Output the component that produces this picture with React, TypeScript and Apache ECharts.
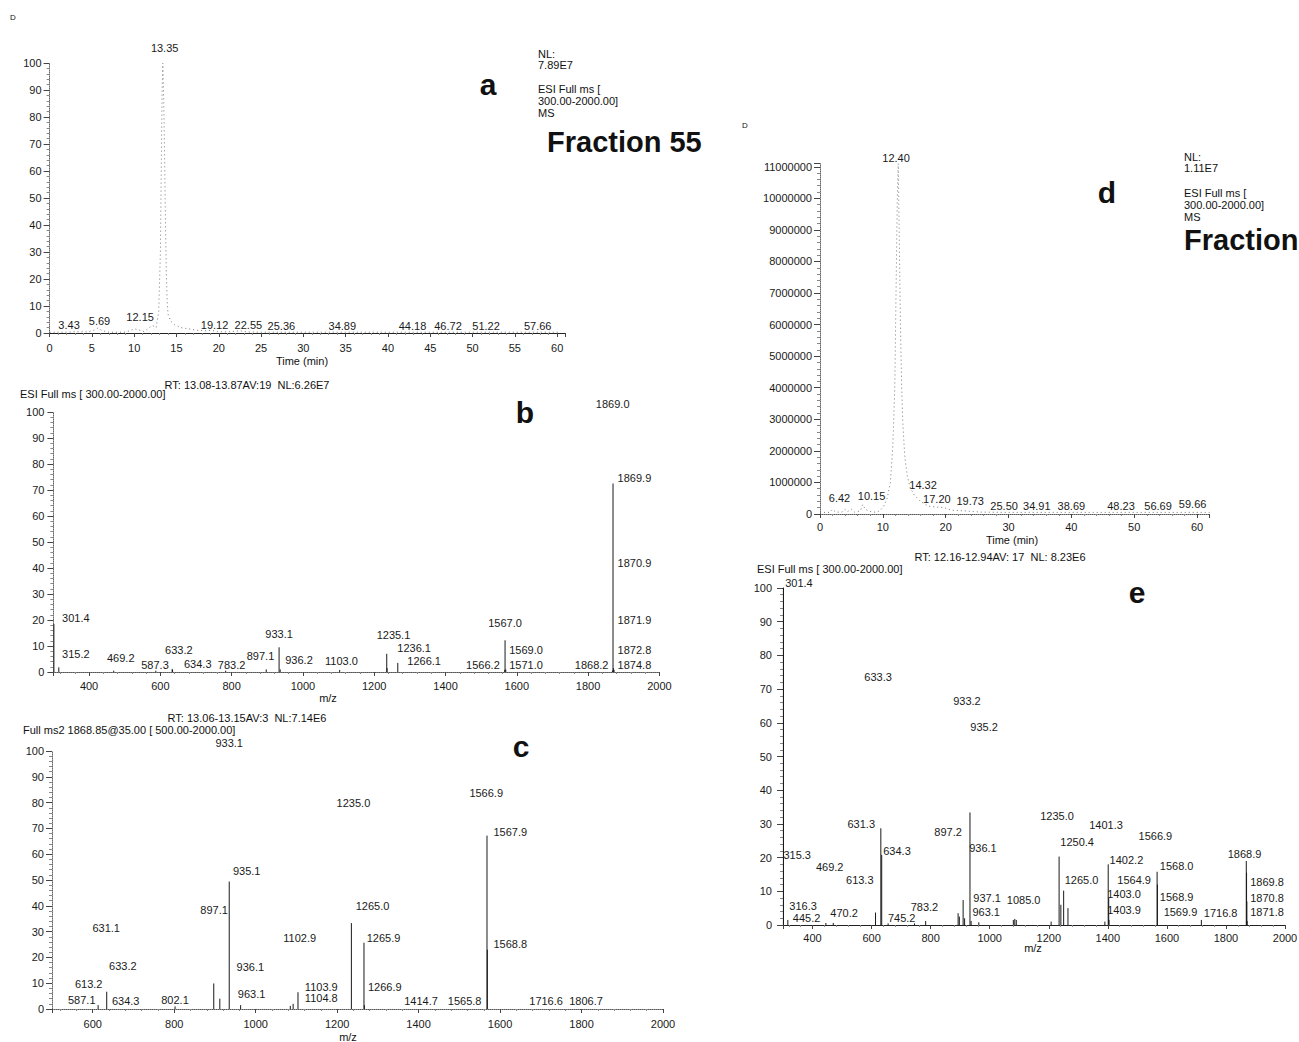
import React, { useEffect, useRef } from 'react';
import * as echarts from 'echarts';

const FONT = 'Liberation Sans';

// ---- Panel a: chromatogram, relative abundance vs time (min)
const aTrace: [number, number][] = [
  [0, 0.3], [2, 0.3], [3.43, 0.5], [4.5, 0.4], [5.2, 1.0], [5.69, 1.8], [6.3, 0.8], [7, 0.3], [9, 0.3],
  [9.6, 1.0], [10.1, 1.5], [10.7, 1.0], [11.2, 0.5], [11.7, 1.8], [12.15, 2.8], [12.6, 2.0], [12.9, 8],
  [13.1, 30], [13.2, 60], [13.3, 90], [13.38, 100], [13.5, 85], [13.6, 65], [13.7, 40], [13.8, 22],
  [13.9, 12], [14.0, 7], [14.3, 4.5], [14.8, 3], [15.5, 2], [16.5, 1.5], [17.5, 1.0], [18.5, 0.8],
  [19.12, 1.0], [19.8, 0.5], [21, 0.4], [22.55, 0.8], [23.3, 0.4], [25, 0.3], [40, 0.3], [60.3, 0.3],
];
const aLabels: [string, number, number][] = [
  ['13.35', 13.6, 105.5], ['3.43', 2.3, 2.8], ['5.69', 5.9, 4.3], ['12.15', 10.7, 5.9], ['19.12', 19.5, 2.8],
  ['22.55', 23.5, 2.8], ['25.36', 27.4, 2.5], ['34.89', 34.6, 2.5], ['44.18', 42.9, 2.5], ['46.72', 47.1, 2.5],
  ['51.22', 51.6, 2.5], ['57.66', 57.7, 2.5],
];

// ---- Panel b: full MS spectrum
const bPeaks: [number, number][] = [
  [301.4, 18.5], [315.2, 1.8], [469.2, 0.5], [587.3, 0.5], [633.2, 1.2], [634.3, 0.8], [783.2, 0.5],
  [897.1, 1.0], [933.1, 9.5], [936.2, 1.0], [1103.0, 0.8], [1235.1, 7.0], [1236.1, 1.5], [1266.1, 3.5],
  [1566.2, 0.8], [1567.0, 12.2], [1569.0, 1.0], [1868.2, 0.5], [1869.9, 72.5], [1870.9, 1.5], [1872.8, 0.8],
];
const bLabels: [string, number, number][] = [
  ['1869.0', 1869, 103], ['1869.9', 1930, 74.5], ['1870.9', 1930, 42], ['1871.9', 1930, 20],
  ['1872.8', 1930, 8.6], ['1874.8', 1930, 2.8], ['1868.2', 1810, 2.8], ['1567.0', 1567, 19],
  ['1569.0', 1626, 8.6], ['1571.0', 1626, 2.8], ['1566.2', 1505, 2.8], ['1266.1', 1340, 4.1],
  ['1236.1', 1312, 9.3], ['1235.1', 1254, 14.2], ['1103.0', 1108, 4.1], ['936.2', 989, 4.8],
  ['933.1', 933, 14.8], ['897.1', 881, 6], ['783.2', 800, 2.8], ['634.3', 705, 3.2], ['633.2', 652, 8.6],
  ['587.3', 585, 2.6], ['469.2', 489, 5.2], ['315.2', 363, 6.8], ['301.4', 363, 20.9],
];

// ---- Panel c: MS2 spectrum
const cPeaks: [number, number][] = [
  [613.2, 1.5], [634.3, 6.7], [802.1, 1], [897.1, 9.9], [912, 4], [935.1, 49.4], [963.1, 1.5],
  [1085, 1.2], [1092, 2], [1103.9, 6.5], [1235.0, 33.3], [1265.9, 25.7], [1266.9, 1.5],
  [1567.9, 67.2], [1568.8, 23.0],
];
const cLabels: [string, number, number][] = [
  ['933.1', 935, 103], ['1566.9', 1566, 83.9], ['1235.0', 1240, 79.7], ['1567.9', 1625, 68.7],
  ['935.1', 978, 53.5], ['897.1', 898, 38.4], ['1265.0', 1287, 39.9], ['631.1', 633, 31.3],
  ['1102.9', 1108, 27.4], ['1265.9', 1314, 27.6], ['1568.8', 1625, 25.2], ['633.2', 674, 16.8],
  ['936.1', 987, 16.4], ['613.2', 590, 9.7], ['1103.9', 1161, 8.7], ['1266.9', 1317, 8.4],
  ['587.1', 573, 3.5], ['634.3', 681, 3.2], ['802.1', 802, 3.5], ['963.1', 990, 5.8],
  ['1104.8', 1161, 4.1], ['1414.7', 1406, 3.1], ['1565.8', 1513, 3.1], ['1716.6', 1713, 3.1],
  ['1806.7', 1811, 3.1],
];

// ---- Panel d: chromatogram, absolute intensity vs time (min)
const dTrace: [number, number][] = [
  [0, 50000], [1.5, 50000], [2, 150000], [2.5, 60000], [3.5, 60000], [4, 150000], [4.4, 80000],
  [5, 150000], [5.5, 60000], [6, 80000], [6.42, 100000], [6.8, 300000], [7.2, 150000], [8, 80000],
  [9, 50000], [9.6, 120000], [10.15, 250000], [10.7, 500000], [11.2, 1000000], [11.6, 2200000],
  [11.9, 4000000], [12.1, 7000000], [12.3, 10000000], [12.45, 11100000], [12.6, 9000000],
  [12.8, 6000000], [13, 4000000], [13.2, 2800000], [13.5, 1800000], [13.9, 1200000], [14.32, 850000],
  [15, 600000], [16, 400000], [17.2, 250000], [18.5, 220000], [19.73, 200000], [21, 120000],
  [23, 100000], [25.5, 60000], [30, 50000], [62, 50000],
];
const dLabels: [string, number, number][] = [
  ['12.40', 12.1, 11290000], ['14.32', 16.4, 930000], ['6.42', 3.1, 500000], ['10.15', 8.2, 560000],
  ['17.20', 18.6, 470000], ['19.73', 23.9, 420000], ['25.50', 29.3, 240000], ['34.91', 34.5, 240000],
  ['38.69', 40.0, 240000], ['48.23', 47.9, 240000], ['56.69', 53.8, 260000], ['59.66', 59.3, 320000],
];

// ---- Panel e: full MS spectrum of the second fraction
const ePeaks: [number, number][] = [
  [301.4, 100], [316.3, 1.5], [445.2, 0.6], [470.2, 0.6], [613.3, 3.7], [631.3, 28.7], [634.3, 20.8],
  [656, 0.5], [745.2, 0.5], [783.2, 1.2], [893, 3.5], [897.2, 2.5], [910, 7.4], [915, 2], [933.2, 33.4],
  [937.1, 1.2], [963.1, 0.8], [1080, 1.5], [1085.0, 1.8], [1090, 1.5], [1208, 1], [1235.0, 20.3],
  [1241, 6], [1250.4, 10.2], [1265.0, 5.0], [1390, 1], [1401.3, 18], [1403.0, 8], [1403.9, 1.5],
  [1566.9, 15.8], [1568.0, 12], [1716.8, 1.5], [1868.9, 19], [1869.8, 15.5], [1870.8, 7], [1871.8, 1.2],
];
const eLabels: [string, number, number][] = [
  ['301.4', 354, 101.6], ['633.3', 622, 73.6], ['933.2', 923, 66.5], ['935.2', 981, 58.8],
  ['1235.0', 1228, 32.4], ['1401.3', 1394, 29.6], ['1566.9', 1561, 26.5], ['631.3', 565, 30.1],
  ['897.2', 859, 27.7], ['936.1', 977, 22.9], ['1250.4', 1296, 24.5], ['315.3', 348, 20.8],
  ['634.3', 686, 21.9], ['1868.9', 1863, 21.2], ['1402.2', 1463, 19.3], ['1568.0', 1633, 17.6],
  ['469.2', 458, 17.3], ['613.3', 560, 13.3], ['1265.0', 1311, 13.5], ['1564.9', 1489, 13.3],
  ['1869.8', 1939, 12.8], ['937.1', 991, 7.9], ['1085.0', 1115, 7.4], ['1403.0', 1455, 9.1],
  ['1568.9', 1633, 8.4], ['1870.8', 1939, 7.9], ['316.3', 368, 5.6], ['783.2', 779, 5.2],
  ['445.2', 380, 2.0], ['470.2', 507, 3.5], ['745.2', 702, 2.0], ['963.1', 988, 3.8],
  ['1403.9', 1455, 4.4], ['1569.9', 1646, 4.0], ['1716.8', 1782, 3.5], ['1871.8', 1939, 3.8],
];

const TXT = '#1a1a1a';

function xAxisCfg(gi: number, min: number, max: number, step: number, opts: any = {}) {
  return {
    type: 'value', gridIndex: gi, min, max,
    ...(opts.interval ? { interval: step } : { splitNumber: opts.splitNumber }),
    axisLine: { show: true, onZero: false, lineStyle: { color: opts.lineColor || '#333', width: 1, type: opts.lineType || 'solid' } },
    axisTick: { show: true, length: 4, lineStyle: { color: '#444' } },
    minorTick: { show: true, splitNumber: 5, length: 2, lineStyle: { color: '#888' } },
    splitLine: { show: false },
    axisLabel: {
      fontSize: 11, fontFamily: FONT, color: TXT, margin: opts.margin ?? 8,
      formatter: (v: number) => (Math.abs(v % step) < 1e-6 ? String(v) : ''),
    },
  };
}

function yAxisCfg(gi: number, max: number, step: number, opts: any = {}) {
  return {
    type: 'value', gridIndex: gi, min: 0, max, interval: step,
    axisLine: { show: true, lineStyle: { color: opts.lineColor || '#666', width: 1, type: opts.lineType || 'dotted' } },
    axisTick: { show: true, length: 6, lineStyle: { color: '#444' } },
    minorTick: { show: true, splitNumber: 5, length: 3, lineStyle: { color: '#888' } },
    splitLine: { show: false },
    axisLabel: {
      fontSize: 11, fontFamily: FONT, color: TXT, margin: opts.margin ?? 8,
      formatter: (v: number) => (Math.abs(v % step) < 1e-6 ? String(v) : ''),
    },
  };
}

function peakSeries(peaks: [number, number][], gi: number) {
  return {
    type: 'custom', coordinateSystem: 'cartesian2d', xAxisIndex: gi, yAxisIndex: gi,
    clip: false, silent: true, encode: { x: 0, y: 1 }, data: peaks, z: 3,
    renderItem: (_p: any, api: any) => {
      const x = api.value(0);
      const y = api.value(1);
      const p0 = api.coord([x, 0]);
      const p1 = api.coord([x, y]);
      return { type: 'line', shape: { x1: p0[0], y1: p0[1], x2: p1[0], y2: p1[1] }, style: { stroke: '#1a1a1a', lineWidth: 1 } };
    },
  };
}

function labelSeries(labels: [string, number, number][], gi: number) {
  return {
    type: 'custom', coordinateSystem: 'cartesian2d', xAxisIndex: gi, yAxisIndex: gi,
    clip: false, silent: true, encode: { x: 0, y: 1 }, z: 4,
    data: labels.map((l) => [l[1], l[2]]),
    renderItem: (p: any, api: any) => {
      const pt = api.coord([api.value(0), api.value(1)]);
      return {
        type: 'text', x: pt[0], y: pt[1],
        style: {
          text: labels[p.dataIndex][0], fill: TXT, fontSize: 11, fontFamily: FONT,
          align: 'center', verticalAlign: 'middle', textAlign: 'center', textVerticalAlign: 'middle',
        },
      };
    },
  };
}

function traceSeries(data: [number, number][], gi: number) {
  return {
    type: 'line', xAxisIndex: gi, yAxisIndex: gi, data, showSymbol: false, symbol: 'none',
    lineStyle: { color: '#777', width: 1, type: [1, 3] }, z: 3, silent: true,
  };
}

function txt(text: string, x: number, y: number, size = 11, align = 'left', bold = false) {
  return {
    type: 'text', x, y, z: 100, silent: true,
    style: {
      text, fontSize: size, fontFamily: FONT, fontWeight: bold ? 'bold' : 'normal', fill: '#111',
      align, verticalAlign: 'middle', textAlign: align, textVerticalAlign: 'middle',
    },
  };
}

export default function App() {
  const ref = useRef<HTMLDivElement>(null);
  useEffect(() => {
    if (!ref.current) return;
    const chart = echarts.init(ref.current, undefined, { renderer: 'svg' });
    const option: any = {
      animation: false,
      backgroundColor: '#fff',
      grid: [
        { left: 49.6, top: 63, width: 516, height: 270, outerBoundsMode: 'none' },
        { left: 53.4, top: 412, width: 606, height: 260, outerBoundsMode: 'none' },
        { left: 52, top: 751, width: 611, height: 258, outerBoundsMode: 'none' },
        { left: 820, top: 163.6, width: 389.6, height: 350.4, outerBoundsMode: 'none' },
        { left: 783, top: 588, width: 502, height: 337, outerBoundsMode: 'none' },
      ],
      xAxis: [
        xAxisCfg(0, 0, 61, 5, { interval: true, margin: 9, lineColor: '#222' }),
        xAxisCfg(1, 300, 2000, 200, { splitNumber: 8, lineType: 'dotted', lineColor: '#555', margin: 8 }),
        xAxisCfg(2, 500, 2000, 200, { splitNumber: 7, lineType: 'dotted', lineColor: '#555', margin: 9 }),
        xAxisCfg(3, 0, 62, 10, { interval: true, lineType: 'dotted', lineColor: '#555', margin: 7 }),
        xAxisCfg(4, 300, 2000, 200, { splitNumber: 8, lineColor: '#222', margin: 7 }),
      ],
      yAxis: [
        yAxisCfg(0, 100, 10, { margin: 8 }),
        yAxisCfg(1, 100, 10, { margin: 9 }),
        yAxisCfg(2, 100, 10, { margin: 8 }),
        yAxisCfg(3, 11100000, 1000000, { margin: 8 }),
        yAxisCfg(4, 100, 10, { margin: 11, lineType: 'solid', lineColor: '#222' }),
      ],
      series: [
        traceSeries(aTrace, 0),
        labelSeries(aLabels, 0),
        peakSeries(bPeaks, 1),
        labelSeries(bLabels, 1),
        peakSeries(cPeaks, 2),
        labelSeries(cLabels, 2),
        traceSeries(dTrace, 3),
        labelSeries(dLabels, 3),
        peakSeries(ePeaks, 4),
        labelSeries(eLabels, 4),
      ],
      graphic: [
        txt('D', 10, 17, 8),
        txt('NL:', 538, 54), txt('7.89E7', 538, 65),
        txt('ESI Full ms [', 538, 89), txt('300.00-2000.00]', 538, 101), txt('MS', 538, 113),
        txt('Fraction 55', 547, 142, 29, 'left', true),
        txt('a', 488, 84, 30, 'center', true),
        txt('Time (min)', 302, 361, 11, 'center'),

        txt('RT: 13.08-13.87AV:19  NL:6.26E7', 247, 385, 11, 'center'),
        txt('ESI Full ms [ 300.00-2000.00]', 20, 394),
        txt('b', 525, 412, 30, 'center', true),
        txt('m/z', 328, 698, 11, 'center'),

        txt('RT: 13.06-13.15AV:3  NL:7.14E6', 247, 718, 11, 'center'),
        txt('Full ms2 1868.85@35.00 [ 500.00-2000.00]', 23, 730),
        txt('c', 521, 746, 30, 'center', true),
        txt('m/z', 348, 1037, 11, 'center'),

        txt('D', 742, 125, 8),
        txt('NL:', 1184, 157), txt('1.11E7', 1184, 168),
        txt('ESI Full ms [', 1184, 193), txt('300.00-2000.00]', 1184, 205), txt('MS', 1184, 217),
        txt('Fraction', 1184, 240, 29, 'left', true),
        txt('d', 1107, 192, 30, 'center', true),
        txt('Time (min)', 1012, 540, 11, 'center'),

        txt('RT: 12.16-12.94AV: 17  NL: 8.23E6', 1000, 557, 11, 'center'),
        txt('ESI Full ms [ 300.00-2000.00]', 757, 569),
        txt('e', 1137, 592, 30, 'center', true),
        txt('m/z', 1033, 948, 11, 'center'),
      ],
    };
    chart.setOption(option);
    return () => chart.dispose();
  }, []);
  return (
    <div
      ref={ref}
      style={{ position: 'absolute', left: 0, top: 0, width: 1299, height: 1042, overflow: 'hidden', background: '#fff' }}
    />
  );
}
